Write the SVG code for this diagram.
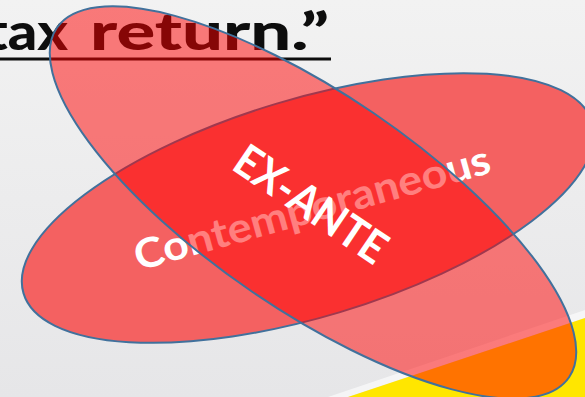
<svg xmlns="http://www.w3.org/2000/svg" width="585" height="397" viewBox="0 0 585 397">
<defs>
<linearGradient id="bgGrad" x1="0" y1="0" x2="0" y2="1">
<stop offset="0" stop-color="#F2F2F2"/>
<stop offset="1" stop-color="#E6E6E8"/>
</linearGradient>
<style>
.title{font-family:Lato,"Open Sans","Liberation Sans",sans-serif;font-weight:900;font-size:52px;fill:#0D0D0D}
.outline{stroke:#41719C;stroke-width:2}
.lbl{font-family:Lato,"Open Sans","Liberation Sans",sans-serif;font-weight:bold;fill:#FFFFFF;text-anchor:middle}
</style>
</defs>
<g id="background">
<rect x="0" y="0" width="585" height="397" fill="url(#bgGrad)"/>
<polygon points="328,397 585,310 585,318 348,397" fill="#FFFFFF" opacity="0.6"/>
<polygon points="348,397 585,318 585,397" fill="#FFE600"/>
</g>
<g id="title">
<text class="title" x="-14" y="50" textLength="82" lengthAdjust="spacingAndGlyphs">tax</text>
<text class="title" x="90" y="50" textLength="239" lengthAdjust="spacingAndGlyphs">return.”</text>
<rect x="0" y="57.5" width="331" height="3" fill="#0D0D0D"/>
</g>
<g id="node-contemporaneous">
<ellipse class="outline" cx="308" cy="208" rx="297" ry="109" transform="rotate(-16.7 308 208)" fill="#F46161"/>
<text class="lbl" font-size="41" transform="translate(312 208) rotate(-15.5)" x="0" y="14" textLength="368" lengthAdjust="spacingAndGlyphs">Contemporaneous</text>
</g>
<g id="node-exante">
<ellipse class="outline" cx="313" cy="202.5" rx="310" ry="108" transform="rotate(34.3 313 202.5)" fill="#FF0000" fill-opacity="0.5"/>
<text class="lbl" font-size="45" transform="translate(311 204) rotate(34)" x="0" y="16" textLength="174" lengthAdjust="spacingAndGlyphs">EX-ANTE</text>
</g>
<g id="connectors"/>
</svg>
